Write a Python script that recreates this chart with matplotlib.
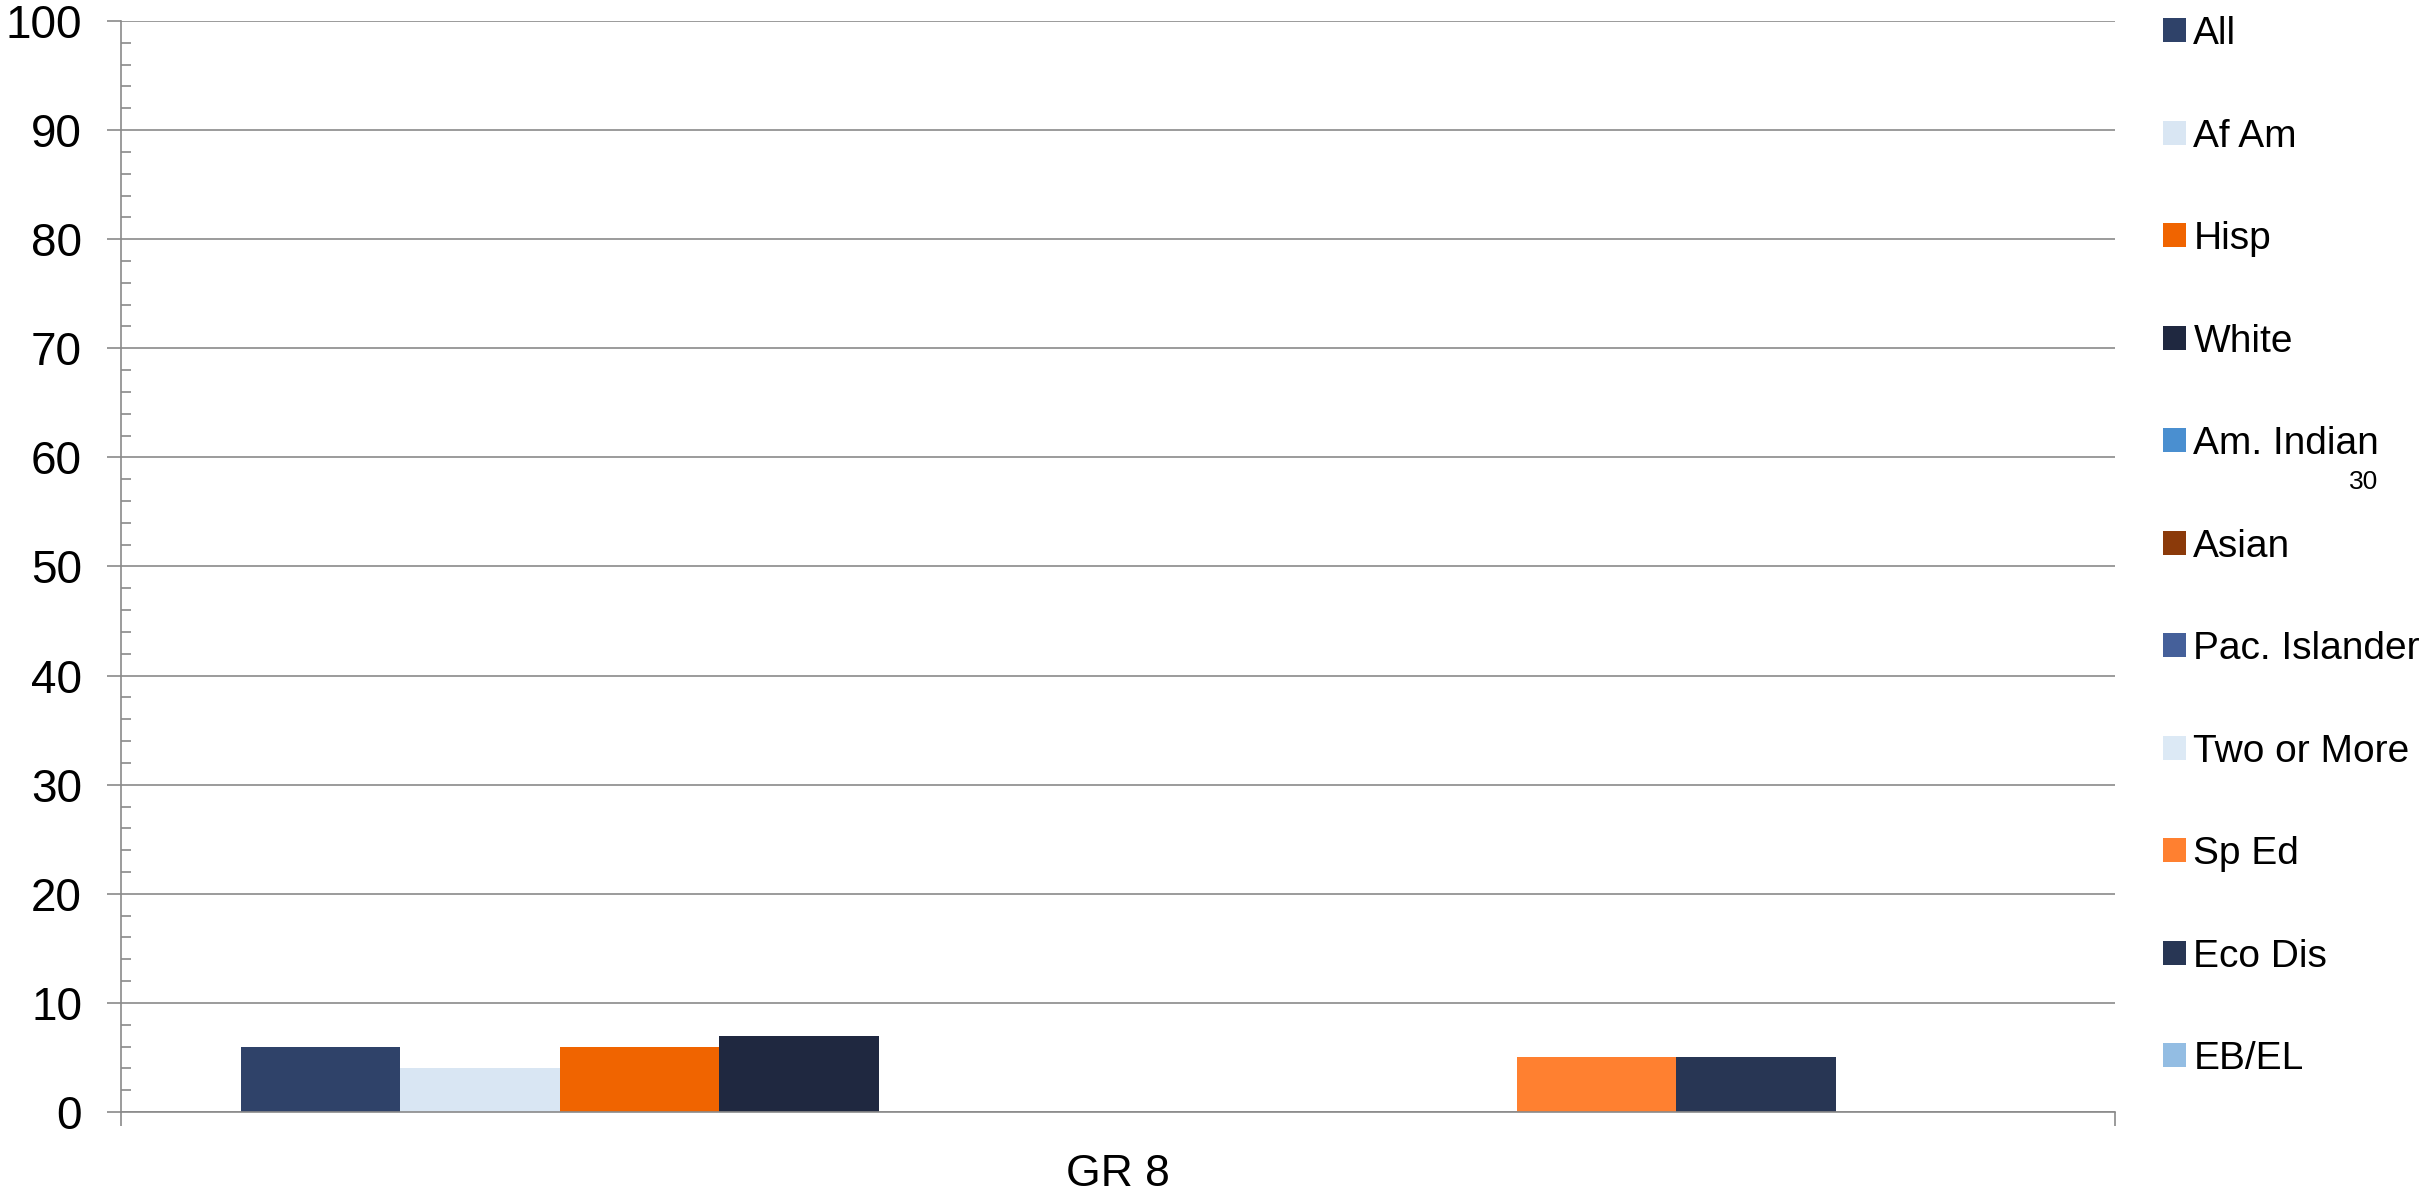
import numpy as np
import matplotlib.pyplot as plt
from matplotlib.patches import Patch

plt.rcParams['font.family'] = ['Liberation Sans', 'DejaVu Sans']

categories = ['GR 8']
groups = ['All', 'Af Am', 'Hisp', 'White', 'Am. Indian', 'Asian',
          'Pac. Islander', 'Two or More', 'Sp Ed', 'Eco Dis', 'EB/EL']
values = [6, 4, 6, 7, np.nan, np.nan, np.nan, np.nan, 5, 5, np.nan]
colors = ['#2F4269', '#D9E6F3', '#F06400', '#1F2840', '#4A8FD0', '#8B3A0A',
          '#45609A', '#DCE9F5', '#FF8030', '#283654', '#93BDE3']
yticks = list(range(0, 101, 10))

grid_c = '#8A8A8A'

fig = plt.figure(figsize=(24.33, 11.92), dpi=100)
ax = fig.add_axes([0.0497, 0.0671, 0.8196, 0.9153])

n = len(groups)
w = 1 / (n + 1.5)
x = np.arange(len(categories))
handles = []
for i, (g, v, c) in enumerate(zip(groups, values, colors)):
    ax.bar(x + (i - (n - 1) / 2) * w, [v], width=w, color=c, linewidth=0)
    handles.append(Patch(facecolor=c, edgecolor='none', label=g))

ax.set_xlim(-0.5, 0.5)
ax.set_ylim(0, 100)
ax.set_yticks(yticks)
ax.set_yticks(np.arange(0, 101, 2), minor=True)
ax.yaxis.grid(True, color=grid_c, linewidth=1.2)
ax.set_axisbelow(True)

ax.set_xticks(x)
ax.set_xticklabels(categories, fontsize=32)
ax.set_xticks([-0.5, 0.5], minor=True)
ax.tick_params(axis='x', which='major', length=0, pad=30)
ax.tick_params(axis='x', which='minor', length=10, width=1.2, color=grid_c, direction='out')
ax.tick_params(axis='y', which='major', labelsize=33, length=10, width=1.2,
               color=grid_c, direction='out', pad=18)
ax.tick_params(axis='y', which='minor', length=7, width=1.2, color=grid_c, direction='in')

for s in ['top', 'right']:
    ax.spines[s].set_visible(False)
for s in ['left', 'bottom']:
    ax.spines[s].set_color(grid_c)
    ax.spines[s].set_linewidth(1.2)

fig.legend(handles=handles, loc='upper left', bbox_to_anchor=(0.886, 0.993),
           frameon=False, fontsize=28, handlelength=0.57, handleheight=0.57,
           handletextpad=0.2, labelspacing=1.71, borderaxespad=0, borderpad=0.2)

fig.text(2364 / 2433, 1 - 482 / 1192, '30', fontsize=19, ha='center', va='center')

fig.savefig('out.png', dpi=100)
